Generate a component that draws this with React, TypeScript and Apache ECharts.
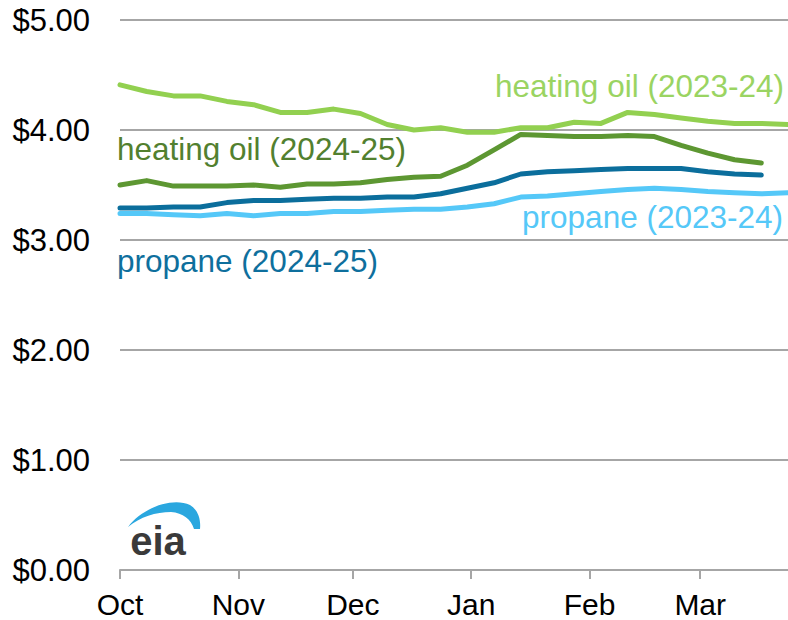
import React, { useEffect, useRef } from "react";
import * as echarts from "echarts";

// Month tick labels and day offsets from Oct 1 (season with 29-day Feb)
const monthLabels = ["Oct", "Nov", "Dec", "Jan", "Feb", "Mar"];
const monthStartDays = [0, 31, 61, 92, 123, 152];
const totalDays = 176; // day indices 0..175
const weekStep = 7;

// Weekly residential prices, $/gallon
const heatingOil2324 = [
  4.41, 4.35, 4.31, 4.31, 4.26, 4.23, 4.16, 4.16, 4.19, 4.15, 4.05, 4.0, 4.02,
  3.98, 3.98, 4.02, 4.02, 4.07, 4.06, 4.16, 4.14, 4.11, 4.08, 4.06, 4.06, 4.05,
];
const heatingOil2425 = [
  3.5, 3.54, 3.49, 3.49, 3.49, 3.5, 3.48, 3.51, 3.51, 3.52, 3.55, 3.57, 3.58,
  3.68, 3.82, 3.96, 3.95, 3.94, 3.94, 3.95, 3.94, 3.86, 3.79, 3.73, 3.7,
];
const propane2324 = [
  3.24, 3.24, 3.23, 3.22, 3.24, 3.22, 3.24, 3.24, 3.26, 3.26, 3.27, 3.28, 3.28,
  3.3, 3.33, 3.39, 3.4, 3.42, 3.44, 3.46, 3.47, 3.46, 3.44, 3.43, 3.42, 3.43,
];
const propane2425 = [
  3.29, 3.29, 3.3, 3.3, 3.34, 3.36, 3.36, 3.37, 3.38, 3.38, 3.39, 3.39, 3.42,
  3.47, 3.52, 3.6, 3.62, 3.63, 3.64, 3.65, 3.65, 3.65, 3.62, 3.6, 3.59,
];

const seriesNames = [
  "heating oil (2023-24)",
  "heating oil (2024-25)",
  "propane (2023-24)",
  "propane (2024-25)",
];

const C_LGREEN = "#92d050";
const C_DGREEN = "#5d9732";
const C_LBLUE = "#55c8f8";
const C_DBLUE = "#0b6e9c";
const FONT = "Arial, 'Liberation Sans', sans-serif";

let shapeRegistered = false;
function registerLogo() {
  if (shapeRegistered) return;
  const d =
    "M128,527 C142,508 172,497 190,505 C198,510 201,519 200,529 L194,529 C191,519 183,513 171,512 C156,512 140,517 128,527 Z";
  echarts.graphic.registerShape("eiaArc", echarts.graphic.extendPath(d, {}) as any);
  shapeRegistered = true;
}

export default function App() {
  const ref = useRef<HTMLDivElement>(null);

  useEffect(() => {
    if (!ref.current) return;
    registerLogo();
    const chart = echarts.init(ref.current, undefined, { renderer: "svg" });

    const categories: string[] = [];
    for (let i = 0; i < totalDays; i++) {
      const m = monthStartDays.indexOf(i);
      categories.push(m >= 0 ? monthLabels[m] : "");
    }
    const isMonthStart = (idx: number) => monthStartDays.indexOf(idx) >= 0;
    const toPoints = (arr: number[]) => arr.map((v, i) => [i * weekStep, v]);

    const mkSeries = (name: string, data: number[], color: string, z: number) => ({
      name,
      type: "line",
      data: toPoints(data),
      showSymbol: false,
      symbol: "none",
      z,
      lineStyle: { color, width: 5, cap: "round", join: "round" },
      itemStyle: { color },
      emphasis: { disabled: true },
    });

    const labelText = (
      text: string,
      x: number,
      y: number,
      color: string,
      align: string
    ) => ({
      type: "text",
      x,
      y,
      z: 10,
      style: {
        text,
        fill: color,
        font: `31.5px ${FONT}`,
        align,
        verticalAlign: "middle",
      },
    });

    chart.setOption({
      animation: false,
      backgroundColor: "#ffffff",
      grid: { left: 120, right: 0, top: 20, bottom: 50, containLabel: false },
      xAxis: {
        type: "category",
        data: categories,
        boundaryGap: false,
        axisLine: { show: true, lineStyle: { color: "#a6a6a6", width: 2 } },
        axisTick: {
          show: true,
          interval: (idx: number) => isMonthStart(idx),
          length: 9,
          lineStyle: { color: "#a6a6a6", width: 2 },
        },
        axisLabel: {
          interval: (idx: number) => isMonthStart(idx),
          color: "#000",
          fontSize: 30,
          fontFamily: FONT,
          margin: 19,
        },
        splitLine: { show: false },
      },
      yAxis: {
        type: "value",
        min: 0,
        max: 5,
        interval: 1,
        axisLine: { show: false },
        axisTick: { show: false },
        axisLabel: {
          formatter: (v: number) => `$${v.toFixed(2)}`,
          color: "#000",
          fontSize: 31,
          fontFamily: FONT,
          margin: 30,
        },
        splitLine: { lineStyle: { color: "#a6a6a6", width: 2 } },
      },
      series: [
        mkSeries(seriesNames[0], heatingOil2324, C_LGREEN, 2),
        mkSeries(seriesNames[1], heatingOil2425, C_DGREEN, 3),
        mkSeries(seriesNames[2], propane2324, C_LBLUE, 2),
        mkSeries(seriesNames[3], propane2425, C_DBLUE, 3),
      ],
      graphic: [
        labelText(seriesNames[0], 784, 86, "#9ad462", "right"),
        labelText(seriesNames[1], 117, 149, "#52802f", "left"),
        labelText(seriesNames[2], 783, 217, "#55c8f8", "right"),
        labelText(seriesNames[3], 117, 261, "#0e6f9d", "left"),
        {
          type: "eiaArc",
          x: 0,
          y: 0,
          z: 10,
          style: { fill: "#2aa7df" },
        },
        {
          type: "text",
          x: 158,
          y: 541,
          z: 10,
          style: {
            text: "eia",
            fill: "#3a3a3a",
            font: `600 40px ${FONT}`,
            align: "center",
            verticalAlign: "middle",
          },
        },
      ],
    });

    return () => {
      chart.dispose();
    };
  }, []);

  return (
    <div
      ref={ref}
      style={{ position: "fixed", left: 0, top: 0, width: 788, height: 620 }}
    />
  );
}
